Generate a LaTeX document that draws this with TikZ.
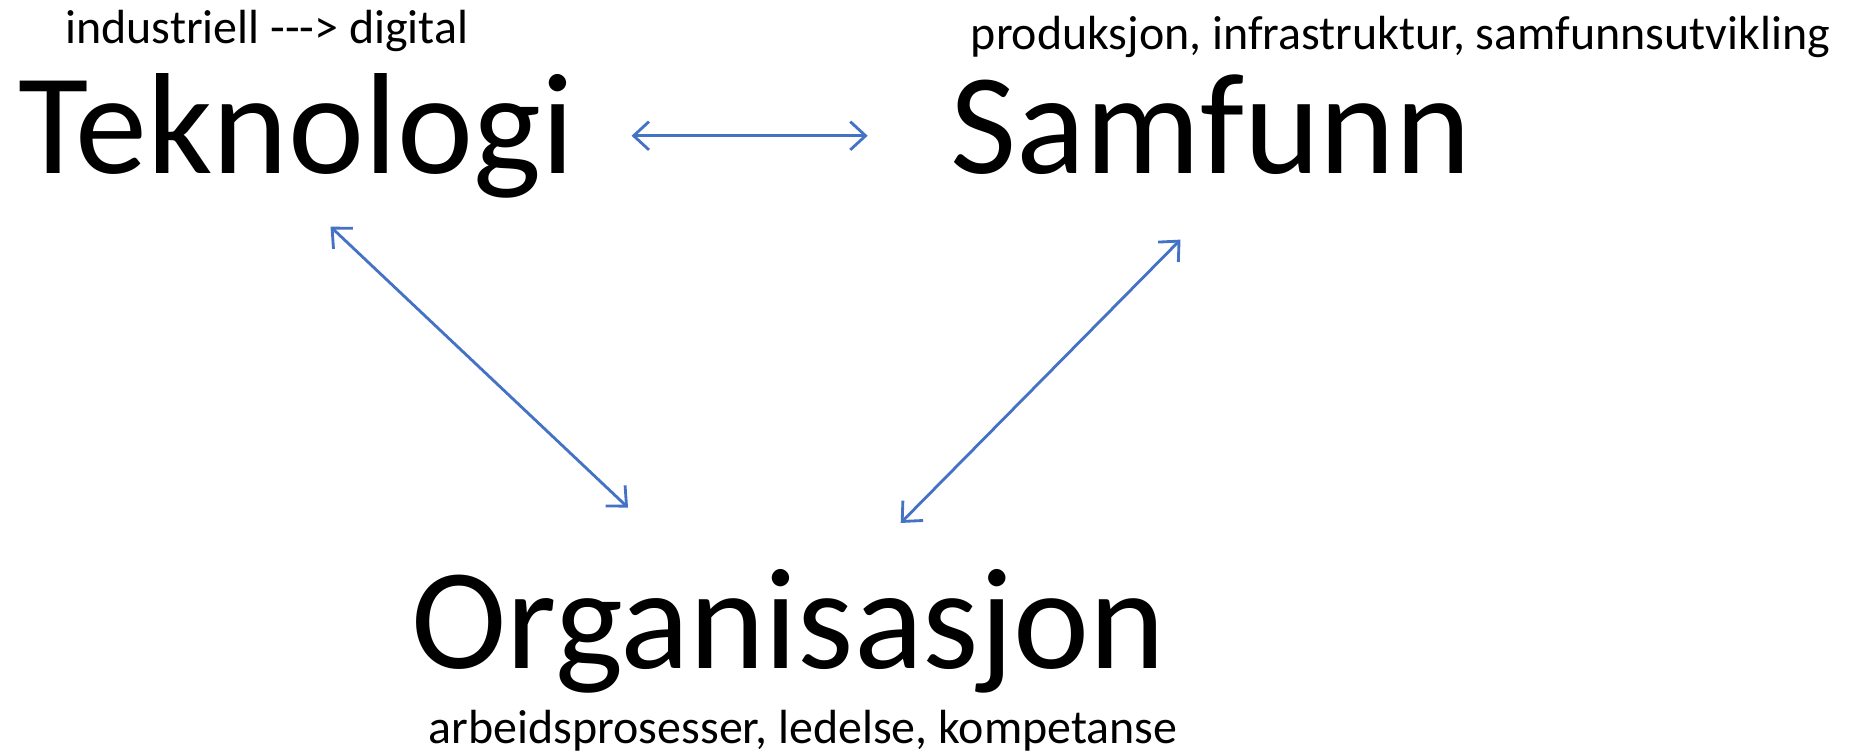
\documentclass[tikz,border=0pt]{standalone}
\usepackage{fontspec}
\newfontfamily\calib{Carlito}
\usetikzlibrary{arrows.meta}
\definecolor{arrowblue}{HTML}{4472C4}
\begin{document}
\begin{tikzpicture}[x=0.5pt,y=-0.5pt,
  big/.style={inner sep=0pt,anchor=base west,font=\calib\fontsize{61}{72}\selectfont},
  small/.style={inner sep=0pt,anchor=base west,font=\calib\fontsize{20.3}{24}\selectfont},
  link/.style={draw=arrowblue,line width=1.2pt,{Straight Barb[length=6.5pt,width=12pt]}-{Straight Barb[length=6.5pt,width=12pt]}}]
\useasboundingbox (0,0) rectangle (1568,640);
\node[small] (t1) at (55,37) {industriell ---> digital};
\node[big] (tek) at (15,147) {Teknologi};
\node[small] (t2) at (822,42) {produksjon, infrastruktur, samfunnsutvikling};
\node[big] (sam) at (805,147) {Samfunn};
\node[big] (org) at (348,566) {Organisasjon};
\node[small] (t3) at (363,630) {arbeidsprosesser, ledelse, kompetanse};
\coordinate (a1) at (535,115);
\coordinate (a2) at (735,115);
\coordinate (b1) at (280,192);
\coordinate (b2) at (532,430);
\coordinate (c1) at (1000,203);
\coordinate (c2) at (763,443);
\draw[link] (a1) -- (a2);
\draw[link] (b1) -- (b2);
\draw[link] (c1) -- (c2);
\end{tikzpicture}
\end{document}
